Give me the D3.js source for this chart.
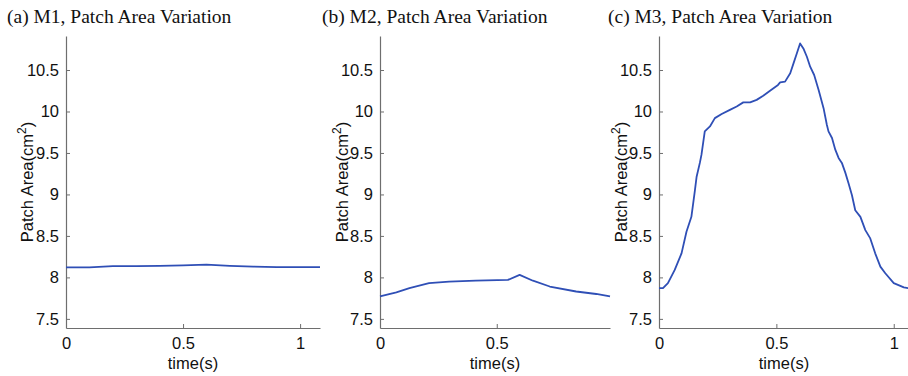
<!DOCTYPE html>
<html>
<head>
<meta charset="utf-8">
<script src="https://cdn.jsdelivr.net/npm/d3@7"></script>
<style>
body { margin: 0; background: #fff; }
svg { display: block; }
</style>
</head>
<body>
<div id="chart"></div>
<script>
'use strict';

// values: time (s) and patch area (cm^2)
const m1_time = [0, 0.1, 0.2, 0.3, 0.4, 0.5, 0.6, 0.7, 0.8, 0.9, 1.0, 1.085];
const m1_area = [8.12, 8.12, 8.135, 8.135, 8.14, 8.145, 8.155, 8.14, 8.13, 8.125, 8.125, 8.125];

const m2_time = [0, 0.07, 0.126, 0.21, 0.296, 0.41, 0.548, 0.598, 0.655, 0.727, 0.84, 0.926, 0.985];
const m2_area = [7.77, 7.82, 7.87, 7.93, 7.95, 7.96, 7.97, 8.03, 7.96, 7.89, 7.83, 7.80, 7.77];

const m3_time = [0, 0.017, 0.038, 0.067, 0.096, 0.117, 0.138, 0.153, 0.160, 0.174, 0.181, 0.195,
	0.217, 0.238, 0.267, 0.302, 0.331, 0.359, 0.388, 0.416, 0.444, 0.473, 0.507, 0.516, 0.537,
	0.559, 0.573, 0.587, 0.601, 0.615, 0.630, 0.644, 0.661, 0.680, 0.701, 0.715, 0.722, 0.737,
	0.751, 0.765, 0.779, 0.794, 0.808, 0.822, 0.836, 0.858, 0.879, 0.900, 0.921, 0.943, 0.964,
	1.0, 1.043, 1.063];
const m3_area = [7.87, 7.87, 7.93, 8.09, 8.29, 8.55, 8.73, 9.05, 9.21, 9.38, 9.48, 9.76,
	9.82, 9.92, 9.97, 10.02, 10.06, 10.11, 10.11, 10.14, 10.19, 10.25, 10.32, 10.35, 10.36,
	10.46, 10.58, 10.70, 10.82, 10.76, 10.66, 10.54, 10.44, 10.26, 10.04, 9.84, 9.76, 9.68,
	9.54, 9.44, 9.38, 9.26, 9.13, 8.99, 8.81, 8.73, 8.57, 8.47, 8.29, 8.13, 8.05,
	7.93, 7.88, 7.87];

const titles = ["(a) M1, Patch Area Variation", "(b) M2, Patch Area Variation", "(c) M3, Patch Area Variation"];
const y_ticks = [7.5, 8, 8.5, 9, 9.5, 10, 10.5];
const x_ticks = [[0, 0.5, 1], [0, 0.5], [0, 0.5, 1]];
const x_max = [1.085, 0.985, 1.065];

const width = 908, height = 376;
const plot_top = 36, plot_bottom = 328;

// panel placement: left edge of axis, right edge, title x, y-label x
const panels = [
	{ left: 66, right: 320, title_x: 7, label_x: 28, time: m1_time, area: m1_area },
	{ left: 380, right: 610, title_x: 322, label_x: 343, time: m2_time, area: m2_area },
	{ left: 659, right: 909, title_x: 608, label_x: 622, time: m3_time, area: m3_area }
];

const svg = d3.select("#chart")
	.append("svg")
		.attr("width", width)
		.attr("height", height);

const axis_color = "#6e6e6e";
const line_color = "#2f4fb6";

panels.forEach(function(p, idx) {
	const x = d3.scaleLinear()
		.domain([0, x_max[idx]])
		.range([p.left, p.right]);

	const y = d3.scaleLinear()
		.domain([7.39, 10.91])
		.range([plot_bottom, plot_top]);

	const g = svg.append("g").attr("class", "panel");

	const yAxis = g.append("g")
		.attr("transform", `translate(${p.left},0)`)
		.call(d3.axisLeft(y).tickValues(y_ticks).tickFormat(d3.format("")).tickSizeInner(-4).tickSizeOuter(0).tickPadding(7));

	const xAxis = g.append("g")
		.attr("transform", `translate(0,${plot_bottom})`)
		.call(d3.axisBottom(x).tickValues(x_ticks[idx]).tickFormat(d3.format("")).tickSizeInner(-4).tickSizeOuter(0).tickPadding(9));

	[yAxis, xAxis].forEach(function(a) {
		a.select(".domain").attr("stroke", axis_color).attr("stroke-width", 1.2);
		a.selectAll(".tick line").attr("stroke", axis_color);
		a.selectAll(".tick text")
			.attr("fill", "#111")
			.style("font-family", "'Liberation Sans', Arial, sans-serif")
			.style("font-size", "16.5px");
	});

	const line = d3.line()
		.x((d, i) => x(p.time[i]))
		.y(d => y(d));

	g.append("path")
		.datum(p.area)
		.attr("fill", "none")
		.attr("stroke", line_color)
		.attr("stroke-width", 1.8)
		.attr("stroke-linejoin", "round")
		.attr("d", line);

	g.append("text")
		.attr("x", p.title_x)
		.attr("y", 23)
		.attr("fill", "#111")
		.style("font-family", "'Liberation Serif', 'Times New Roman', serif")
		.style("font-size", "19.5px")
		.text(titles[idx]);

	g.append("text")
		.attr("x", (p.left + p.right) / 2)
		.attr("y", 369)
		.attr("text-anchor", "middle")
		.attr("fill", "#111")
		.style("font-family", "'Liberation Sans', Arial, sans-serif")
		.style("font-size", "16.5px")
		.text("time(s)");

	const ylab = g.append("text")
		.attr("transform", `translate(${p.label_x + 5},182) rotate(-90)`)
		.attr("text-anchor", "middle")
		.attr("fill", "#111")
		.style("font-family", "'Liberation Sans', Arial, sans-serif")
		.style("font-size", "16.5px");
	ylab.append("tspan").text("Patch Area(cm");
	ylab.append("tspan").attr("dy", -7).style("font-size", "12px").text("2");
	ylab.append("tspan").attr("dy", 7).text(")");
});
</script>
</body>
</html>
